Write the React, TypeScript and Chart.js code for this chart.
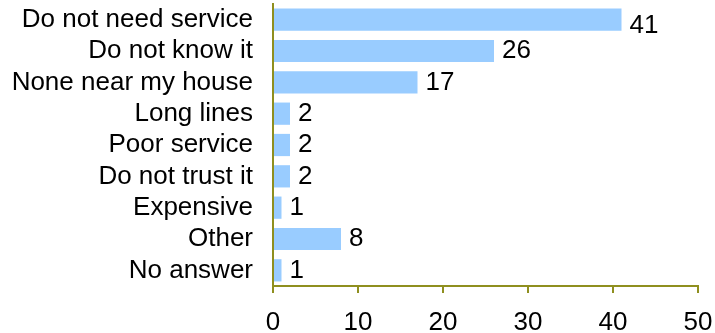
import React, { useEffect, useRef } from "react";
import { Chart, registerables } from "chart.js";

Chart.register(...registerables);

const categories = [
  "Do not need service",
  "Do not know it",
  "None near my house",
  "Long lines",
  "Poor service",
  "Do not trust it",
  "Expensive",
  "Other",
  "No answer",
];
const values = [41, 26, 17, 2, 2, 2, 1, 8, 1];
const xTicks = [0, 10, 20, 30, 40, 50];

const AXIS = "#8f8f1f";
const FONT = "'Liberation Sans', Arial, sans-serif";
const FS = 26;

const valueLabels = {
  id: "valueLabels",
  afterDatasetsDraw(chart: any) {
    const ctx = chart.ctx;
    const meta = chart.getDatasetMeta(0);
    const minY = chart.chartArea.top + 22;
    ctx.save();
    ctx.font = `${FS}px ${FONT}`;
    ctx.fillStyle = "#000";
    ctx.textAlign = "left";
    ctx.textBaseline = "middle";
    meta.data.forEach((bar: any, i: number) => {
      ctx.fillText(String(values[i]), bar.x + 8, Math.max(bar.y, minY));
    });
    ctx.restore();
  },
};

export default function App() {
  const ref = useRef<HTMLCanvasElement>(null);
  useEffect(() => {
    if (!ref.current) return;
    const chart = new Chart(ref.current, {
      type: "bar",
      data: {
        labels: categories,
        datasets: [
          {
            data: values,
            backgroundColor: "#99ccff",
            borderWidth: 0,
            barPercentage: 0.71,
            categoryPercentage: 1,
          },
        ],
      },
      options: {
        indexAxis: "y",
        animation: false,
        responsive: false,
        maintainAspectRatio: false,
        layout: { padding: { top: 4, right: 17, left: 0, bottom: 0 } },
        plugins: { legend: { display: false }, tooltip: { enabled: false } },
        scales: {
          x: {
            min: 0,
            max: 50,
            afterBuildTicks: (scale: any) => {
              scale.ticks = xTicks.map((v) => ({ value: v }));
            },
            afterFit: (scale: any) => {
              scale.height = 47;
              scale.paddingLeft = 0;
              scale.paddingRight = 0;
              scale.paddingTop = 0;
              scale.paddingBottom = 0;
            },
            grid: {
              drawOnChartArea: false,
              drawTicks: true,
              tickLength: 7,
              color: AXIS,
              lineWidth: 2,
            },
            border: { display: true, color: AXIS, width: 2 },
            ticks: {
              color: "#000",
              font: { family: FONT, size: FS },
              padding: 14,
              maxRotation: 0,
            },
          },
          y: {
            afterFit: (scale: any) => {
              scale.width = 273;
              scale.paddingLeft = 0;
              scale.paddingRight = 0;
              scale.paddingTop = 0;
              scale.paddingBottom = 0;
            },
            grid: { display: false, drawTicks: false },
            border: { display: true, color: AXIS, width: 2 },
            ticks: {
              color: "#000",
              font: { family: FONT, size: FS },
              padding: 20,
              autoSkip: false,
            },
          },
        },
      },
      plugins: [valueLabels],
    });
    return () => chart.destroy();
  }, []);
  return (
    <div style={{ position: "fixed", left: 0, top: 0, width: 715, height: 333, background: "#fff" }}>
      <canvas ref={ref} width={715} height={333} style={{ width: 715, height: 333 }} />
    </div>
  );
}
